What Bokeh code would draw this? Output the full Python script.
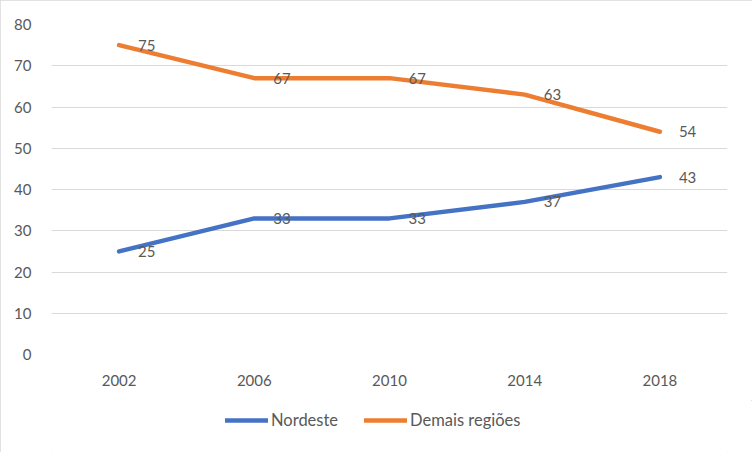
from bokeh.plotting import figure
from bokeh.models import ColumnDataSource, Range1d, Legend, LegendItem, LabelSet
from bokeh.core.properties import value
from bokeh.layouts import column
from bokeh.embed import file_html
from bokeh.resources import INLINE

years = ["2002", "2006", "2010", "2014", "2018"]
nordeste = [25, 33, 33, 37, 43]
demais = [75, 67, 67, 63, 54]
y_ticks = [0, 10, 20, 30, 40, 50, 60, 70, 80]
series_names = ["Nordeste", "Demais regiões"]

FONT = "Lato"
TXT = "#595959"
BLUE = "#4472C4"
ORANGE = "#ED7D31"

p = figure(x_range=years, y_range=Range1d(0, 80), width=752, height=400,
           output_backend="svg", toolbar_location=None,
           min_border_left=51, min_border_right=25, min_border_top=24, min_border_bottom=46)
p.outline_line_color = None
p.xgrid.grid_line_color = None
p.ygrid.grid_line_color = "#d9d9d9"
p.ygrid.grid_line_width = 1
p.yaxis.ticker = y_ticks
for ax in (p.xaxis[0], p.yaxis[0]):
    ax.axis_line_color = None
    ax.major_tick_line_color = None
    ax.minor_tick_line_color = None
    ax.major_label_text_font = FONT
    ax.major_label_text_font_size = "15px"
    ax.major_label_text_color = TXT
p.yaxis.major_label_standoff = 14
p.xaxis.major_label_standoff = 14

src = ColumnDataSource(dict(x=years, n=nordeste, d=demais,
                            nl=[str(v) for v in nordeste], dl=[str(v) for v in demais]))
p.line("x", "n", source=src, line_color=BLUE, line_width=4.5, line_cap="round")
p.line("x", "d", source=src, line_color=ORANGE, line_width=4.5, line_cap="round")

for col, lab in (("n", "nl"), ("d", "dl")):
    ls = LabelSet(x="x", y=col, text=lab, source=src, x_offset=19, y_offset=0,
                  text_baseline="middle", text_align="left", text_font=value(FONT),
                  text_font_size="15px", text_color=TXT)
    p.add_layout(ls)

# legend strip: same series drawn off-view, only their legend entries show
lg = figure(width=752, height=52, x_range=years, y_range=Range1d(1000, 1001),
            output_backend="svg", toolbar_location=None,
            min_border_left=0, min_border_right=0, min_border_top=0, min_border_bottom=0)
lg.axis.visible = False
lg.grid.visible = False
lg.outline_line_color = None
l1 = lg.line("x", "n", source=src, line_color=BLUE, line_width=4.5, line_cap="round")
l2 = lg.line("x", "d", source=src, line_color=ORANGE, line_width=4.5, line_cap="round")
legend = Legend(items=[LegendItem(label=series_names[0], renderers=[l1]),
                       LegendItem(label=series_names[1], renderers=[l2])],
                orientation="horizontal", location=(174, 22),
                label_text_font=FONT, label_text_font_size="16.5px", label_text_color=TXT,
                glyph_width=43, label_standoff=3, spacing=26, border_line_color=None,
                background_fill_alpha=0, padding=0, margin=0)
lg.add_layout(legend, "center")

layout = column(p, lg, spacing=0)
layout.styles = {"outline": "1px solid #d9d9d9", "outline-offset": "-1px"}
open("out.html", "w").write(file_html(layout, INLINE))
